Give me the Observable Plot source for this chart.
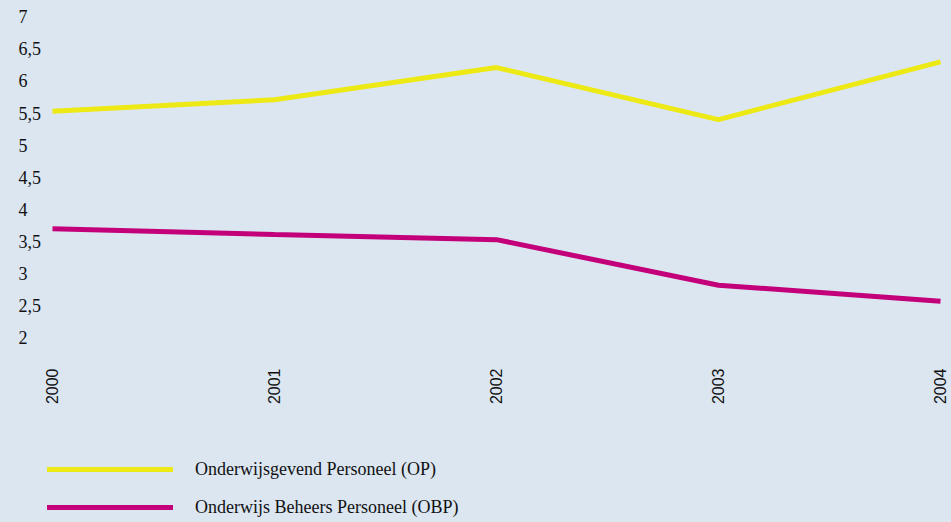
<!DOCTYPE html>
<html>
<head>
<meta charset="utf-8">
<script src="https://cdn.jsdelivr.net/npm/d3@7"></script>
<script src="https://cdn.jsdelivr.net/npm/@observablehq/plot@0.6"></script>
<style>
  html, body { margin: 0; padding: 0; background: #dbe6f1; }
  #wrap { position: relative; width: 951px; height: 522px; overflow: hidden; background: #dbe6f1; }
  #legend { position: absolute; left: 0; top: 0; width: 951px; height: 522px; pointer-events: none; }
  .item { position: absolute; left: 47px; display: flex; align-items: center; font-family: "Liberation Serif", "Times New Roman", serif; font-size: 18px; color: #111; white-space: nowrap; }
  .swatch { width: 126px; height: 5px; margin-right: 22px; }
  .yax text { font-family: "Liberation Serif", "Times New Roman", serif !important; font-size: 18px !important; }
  .xax text { font-family: "Liberation Sans", Arial, sans-serif !important; font-size: 16px !important; }
</style>
</head>
<body>
<div id="wrap"><div id="chart"></div><div id="legend"></div></div>
<script>
const years = ["2000", "2001", "2002", "2003", "2004"];
const opValues = [5.54, 5.72, 6.22, 5.41, 6.31];
const obpValues = [3.71, 3.62, 3.54, 2.83, 2.58];
const seriesNames = ["Onderwijsgevend Personeel (OP)", "Onderwijs Beheers Personeel (OBP)"];
const seriesColors = ["#ede914", "#c3007a"];
const yTicks = [2, 2.5, 3, 3.5, 4, 4.5, 5, 5.5, 6, 6.5, 7];

const rows = [
  ...years.map((y, i) => ({year: y, value: opValues[i], series: seriesNames[0]})),
  ...years.map((y, i) => ({year: y, value: obpValues[i], series: seriesNames[1]}))
];

const fmt = v => String(v).replace(".", ",");

const chart = Plot.plot({
  width: 951,
  height: 440,
  marginLeft: 51,
  marginRight: 11,
  marginTop: 17,
  marginBottom: 102,
  style: {background: "#dbe6f1", overflow: "visible"},
  x: {type: "point", domain: years, padding: 0},
  y: {domain: [2, 7]},
  color: {domain: seriesNames, range: seriesColors},
  marks: [
    Plot.axisY({ticks: yTicks, tickFormat: fmt, tickSize: 0, tickPadding: 33, textAnchor: "start",
      fontFamily: "Liberation Serif", fontSize: 18, fill: "#111", label: null, className: "yax"}),
    Plot.axisX({tickSize: 0, tickRotate: -90, tickPadding: 30,
      fontFamily: "Liberation Sans", fontSize: 16, fill: "#111", label: null, className: "xax"}),
    Plot.line(rows, {x: "year", y: "value", z: "series", stroke: "series", strokeWidth: 5, strokeLinejoin: "miter", strokeLinecap: "butt"})
  ]
});
document.getElementById("chart").appendChild(chart);

const legend = document.getElementById("legend");
const tops = [469, 507];
seriesNames.forEach((name, i) => {
  const item = document.createElement("div");
  item.className = "item";
  item.style.top = (tops[i] - 11) + "px";
  item.style.height = "22px";
  const sw = document.createElement("div");
  sw.className = "swatch";
  sw.style.background = seriesColors[i];
  const tx = document.createElement("span");
  tx.textContent = name;
  item.appendChild(sw);
  item.appendChild(tx);
  legend.appendChild(item);
});
</script>
</body>
</html>
